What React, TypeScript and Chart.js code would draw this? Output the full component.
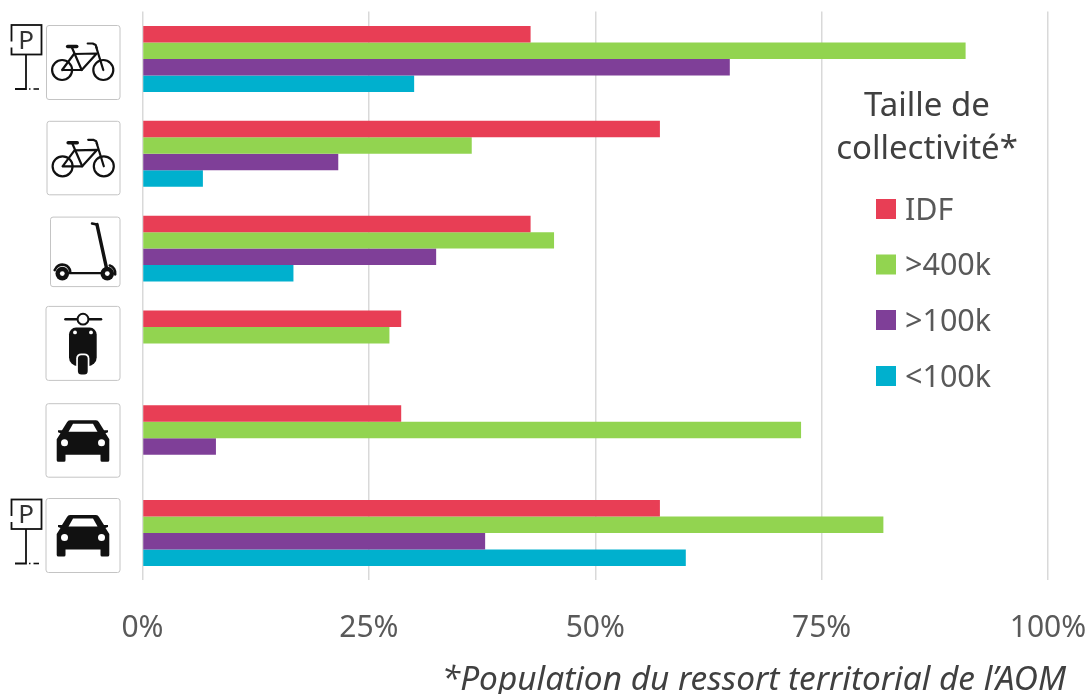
import React, { useEffect, useRef } from "react";
import { Chart, registerables } from "chart.js";

Chart.register(...registerables);

const categories = ["Stationnement vélo", "Vélo", "Trottinette", "Scooter", "Voiture", "Stationnement voiture"];
const idf = [42.86, 57.14, 42.86, 28.57, 28.57, 57.14];
const over400k = [90.9, 36.36, 45.45, 27.27, 72.73, 81.82];
const over100k = [64.86, 21.62, 32.43, 0, 8.11, 37.84];
const under100k = [30, 6.67, 16.67, 0, 0, 60];
const seriesNames = ["IDF", ">400k", ">100k", "<100k"];
const seriesColors = ["#E83E55", "#92D450", "#7F3F98", "#00B0CE"];
const legendTitle = ["Taille de", "collectivité*"];
const footnote = "*Population du ressort territorial de l’AOM";

const FONT = '"Noto Sans"';
const INK = "#111111";

function line(ctx: CanvasRenderingContext2D, pts: number[][], w: number) {
  ctx.lineWidth = w;
  ctx.beginPath();
  pts.forEach((p, i) => (i ? ctx.lineTo(p[0], p[1]) : ctx.moveTo(p[0], p[1])));
  ctx.stroke();
}

function box(ctx: CanvasRenderingContext2D, x0: number, y0: number, x1: number, y1: number) {
  ctx.save();
  ctx.fillStyle = "#fff";
  ctx.strokeStyle = "#c4c4c4";
  ctx.lineWidth = 1;
  ctx.beginPath();
  ctx.roundRect(x0 + 0.5, y0 + 0.5, x1 - x0 - 1, y1 - y0 - 1, 2.5);
  ctx.fill();
  ctx.stroke();
  ctx.restore();
}

function bike(ctx: CanvasRenderingContext2D, cx: number, cy: number) {
  ctx.save();
  ctx.translate(cx, cy);
  ctx.strokeStyle = INK;
  ctx.lineCap = "round";
  ctx.lineJoin = "round";
  ctx.lineWidth = 2.2;
  [-20.6, 20.6].forEach((x) => {
    ctx.beginPath();
    ctx.arc(x, 0, 10, 0, Math.PI * 2);
    ctx.stroke();
  });
  line(ctx, [[-20.6, 0], [-8.7, -16], [14, -16.5], [-1, 0], [-20.6, 0]], 2.2);
  line(ctx, [[-11, -23], [-1, 0]], 2.2);
  line(ctx, [[20.6, 0], [13.5, -23]], 2.2);
  line(ctx, [[5, -26.5], [10, -26.5], [13, -25], [14, -22]], 2.2);
  line(ctx, [[-15, -23.5], [-6, -23.5]], 3.6);
  ctx.restore();
}

function scooter(ctx: CanvasRenderingContext2D, x0: number, y0: number) {
  ctx.save();
  ctx.translate(x0, y0);
  ctx.strokeStyle = INK;
  ctx.fillStyle = INK;
  ctx.lineCap = "round";
  line(ctx, [[12, 56.5], [57, 56.5]], 2.2);
  line(ctx, [[57.5, 56], [47, 8]], 3.4);
  line(ctx, [[47, 8], [42, 7]], 2.5);
  [12.3, 57.3].forEach((x) => {
    ctx.fillStyle = INK;
    ctx.beginPath();
    ctx.arc(x, 57, 6.8, 0, Math.PI * 2);
    ctx.fill();
    ctx.fillStyle = "#fff";
    ctx.beginPath();
    ctx.arc(x, 57, 2.4, 0, Math.PI * 2);
    ctx.fill();
  });
  ctx.lineWidth = 2.6;
  ctx.beginPath();
  ctx.arc(12.3, 56, 8, -Math.PI * 0.9, -Math.PI * 0.05);
  ctx.stroke();
  ctx.beginPath();
  ctx.arc(57.3, 56.5, 8, -Math.PI * 0.4, Math.PI * 0.05);
  ctx.stroke();
  ctx.restore();
}

function moped(ctx: CanvasRenderingContext2D, x0: number, y0: number) {
  ctx.save();
  ctx.translate(x0, y0);
  ctx.strokeStyle = INK;
  ctx.fillStyle = INK;
  ctx.lineCap = "round";
  line(ctx, [[20, 13.3], [55.5, 13.3]], 2.6);
  ctx.fillStyle = "#fff";
  ctx.lineWidth = 2;
  ctx.beginPath();
  ctx.arc(37.5, 13.3, 5.4, 0, Math.PI * 2);
  ctx.fill();
  ctx.stroke();
  ctx.fillStyle = INK;
  ctx.beginPath();
  ctx.roundRect(23.5, 21.7, 27.7, 38.6, [7, 7, 9, 9]);
  ctx.fill();
  ctx.fillStyle = "#fff";
  [29.5, 45.5].forEach((x) => {
    ctx.beginPath();
    ctx.arc(x, 26.5, 1.9, 0, Math.PI * 2);
    ctx.fill();
  });
  ctx.beginPath();
  ctx.roundRect(30.7, 47.5, 13.2, 21.5, 5);
  ctx.fill();
  ctx.fillStyle = INK;
  ctx.beginPath();
  ctx.roundRect(32.4, 49.3, 9.8, 19.4, 3.5);
  ctx.fill();
  ctx.restore();
}

function car(ctx: CanvasRenderingContext2D, cx: number, cy: number) {
  ctx.save();
  ctx.translate(cx, cy);
  ctx.fillStyle = INK;
  ctx.beginPath();
  ctx.moveTo(-13, -20);
  ctx.lineTo(13, -20);
  ctx.quadraticCurveTo(15, -20, 16, -18);
  ctx.lineTo(21, -10);
  ctx.lineTo(25, -10);
  ctx.lineTo(25, -8);
  ctx.lineTo(22.5, -7);
  ctx.lineTo(26.3, -1);
  ctx.lineTo(26.3, 20);
  ctx.quadraticCurveTo(26.3, 21.5, 24.5, 21.5);
  ctx.lineTo(19, 21.5);
  ctx.quadraticCurveTo(17.5, 21.5, 17.5, 20);
  ctx.lineTo(17.5, 14.5);
  ctx.lineTo(-17.5, 14.5);
  ctx.lineTo(-17.5, 20);
  ctx.quadraticCurveTo(-17.5, 21.5, -19, 21.5);
  ctx.lineTo(-24.5, 21.5);
  ctx.quadraticCurveTo(-26.3, 21.5, -26.3, 20);
  ctx.lineTo(-26.3, -1);
  ctx.lineTo(-22.5, -7);
  ctx.lineTo(-25, -8);
  ctx.lineTo(-25, -10);
  ctx.lineTo(-21, -10);
  ctx.lineTo(-16, -18);
  ctx.quadraticCurveTo(-15, -20, -13, -20);
  ctx.closePath();
  ctx.fill();
  ctx.fillStyle = "#fff";
  ctx.beginPath();
  ctx.moveTo(-10, -16.5);
  ctx.lineTo(10, -16.5);
  ctx.lineTo(14.5, -8.5);
  ctx.lineTo(-14.5, -8.5);
  ctx.closePath();
  ctx.fill();
  [-18.5, 18.5].forEach((x) => {
    ctx.beginPath();
    ctx.arc(x, 2.5, 3.5, 0, Math.PI * 2);
    ctx.fill();
  });
  ctx.restore();
}

function parkingSign(ctx: CanvasRenderingContext2D, top: number) {
  ctx.save();
  ctx.translate(0, top);
  ctx.strokeStyle = INK;
  ctx.fillStyle = "#333";
  ctx.lineWidth = 1.8;
  ctx.strokeRect(11.5, 0.5, 30, 29.5);
  ctx.fillStyle = "#fff";
  ctx.fillRect(9.5, 17, 4, 6);
  ctx.fillStyle = "#333";
  ctx.font = `26px ${FONT}`;
  ctx.textAlign = "center";
  ctx.textBaseline = "alphabetic";
  ctx.fillText("P", 26, 24);
  ctx.strokeStyle = INK;
  line(ctx, [[26, 30], [26, 64.5], [15, 64.5]], 1.8);
  line(ctx, [[29, 64.5], [30.5, 64.5]], 1.6);
  line(ctx, [[33.5, 64.5], [39, 64.5]], 1.6);
  ctx.restore();
}

const decorations = {
  id: "decorations",
  afterDraw(chart: any) {
    const ctx: CanvasRenderingContext2D = chart.ctx;
    ctx.save();
    // Category pictograms, anchored on each category's centre
    const y = chart.scales.y;
    const c = categories.map((_, i) => y.getPixelForValue(i));
    box(ctx, 46, c[0] - 34, 120.5, c[0] + 41);
    bike(ctx, 82.7, c[0] + 11);
    parkingSign(ctx, c[0] - 34.5);
    box(ctx, 46.5, c[1] - 33, 120.5, c[1] + 41.5);
    bike(ctx, 83.2, c[1] + 12.5);
    box(ctx, 50, c[2] - 32, 120.5, c[2] + 38.5);
    scooter(ctx, 50, c[2] - 32);
    box(ctx, 45.5, c[3] - 37.5, 120.5, c[3] + 37.5);
    moped(ctx, 45.5, c[3] - 37.5);
    box(ctx, 45.5, c[4] - 35, 120.5, c[4] + 39.5);
    car(ctx, 83, c[4] + 2);
    box(ctx, 45.5, c[5] - 35, 120.5, c[5] + 40);
    car(ctx, 83, c[5] + 2);
    parkingSign(ctx, c[5] - 34);

    // Legend
    ctx.textBaseline = "alphabetic";
    ctx.textAlign = "center";
    ctx.fillStyle = "#404040";
    ctx.font = `33px ${FONT}`;
    ctx.fillText(legendTitle[0], 927, 116);
    ctx.fillText(legendTitle[1], 927, 159);
    ctx.textAlign = "left";
    ctx.font = `30.5px ${FONT}`;
    const rows = [209, 264.5, 320, 376];
    chart.data.datasets.forEach((d: any, i: number) => {
      ctx.fillStyle = d.backgroundColor;
      ctx.fillRect(876, rows[i] - 10, 20, 20);
      ctx.fillStyle = "#595959";
      ctx.fillText(d.label, 905, rows[i] + 10.5);
    });

    // Footnote
    ctx.fillStyle = "#404040";
    ctx.font = `italic 33.4px ${FONT}`;
    ctx.textAlign = "right";
    ctx.fillText(footnote, 1066, 690);
    ctx.restore();
  },
};

export default function App() {
  const ref = useRef<HTMLCanvasElement>(null);
  useEffect(() => {
    const values = [idf, over400k, over100k, under100k];
    const chart = new Chart(ref.current!, {
      type: "bar",
      data: {
        labels: categories,
        datasets: seriesNames.map((label, i) => ({
          label,
          data: values[i],
          backgroundColor: seriesColors[i],
          borderWidth: 0,
          categoryPercentage: 0.695,
          barPercentage: 1,
        })),
      },
      options: {
        indexAxis: "y",
        responsive: false,
        animation: false,
        layout: { padding: { left: 142.5, right: 40, top: 11.6, bottom: 0 } },
        plugins: { legend: { display: false }, tooltip: { enabled: false } },
        scales: {
          x: {
            min: 0,
            max: 100,
            afterFit: (s: any) => {
              s.height = 113.6;
              s.paddingLeft = 0;
              s.paddingRight = 0;
            },
            border: { display: false },
            grid: { color: "#d9d9d9", lineWidth: 1.5, tickLength: 0, drawTicks: false },
            ticks: {
              stepSize: 25,
              maxRotation: 0,
              padding: 30,
              color: "#595959",
              font: { family: FONT, size: 30 },
              callback: (v: any) => `${v}%`,
            },
          },
          y: {
            display: true,
            afterFit: (s: any) => {
              s.width = 0;
            },
            border: { display: false },
            grid: { display: false },
            ticks: { display: false },
          },
        },
      },
      plugins: [decorations],
    } as any);
    return () => chart.destroy();
  }, []);
  return (
    <canvas
      ref={ref}
      width={1088}
      height={694}
      style={{ position: "absolute", left: 0, top: 0, display: "block" }}
    />
  );
}
